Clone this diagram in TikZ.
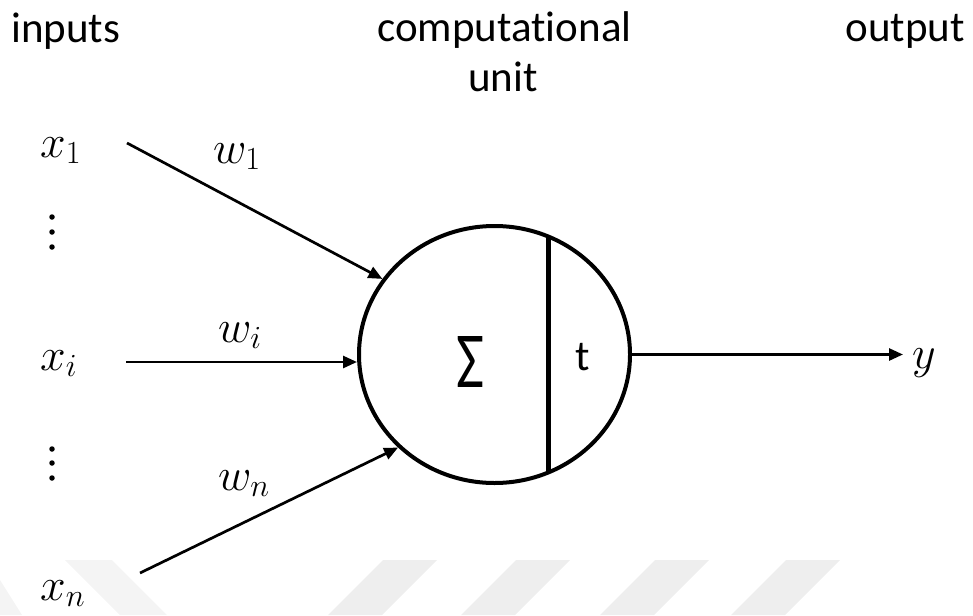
\RequirePackage{fix-cm}
\documentclass[tikz,border=0pt]{standalone}
\usepackage{graphicx}
\usepackage[no-math]{fontspec}
\setmainfont[Ligatures=NoCommon,RawFeature={-calt}]{Carlito}
\usetikzlibrary{arrows.meta,shapes.geometric,calc}
\definecolor{wmA}{HTML}{EEEEEE}
\definecolor{wmB}{HTML}{F4F4F4}
\begin{document}
\begin{tikzpicture}[x=1pt, y=-1pt,
  lbl/.style={font=\fontsize{43}{50}\selectfont, inner sep=0pt},
  mth/.style={font=\fontsize{46}{54}\selectfont, inner sep=0pt},
  arr/.style={line width=2.7pt, -{Triangle[length=14pt,width=12pt]}},
  dotmark/.style={circle, fill=black, inner sep=0pt, minimum size=5.5pt},
  unitbox/.style={draw, ellipse, line width=4pt, inner sep=0pt, minimum width=271pt, minimum height=257pt}]
\useasboundingbox (0,0) rectangle (973,615);
% faint watermark
\fill[wmB] (0,580) -- (0,615) -- (22,615) -- cycle;
\fill[wmB] (65,560) -- (112,560) -- (167,615) -- (120,615) -- cycle;
\fill[wmA] (383,560) -- (437,560) -- (382,615) -- (328,615) -- cycle;
\fill[wmA] (516,560) -- (570,560) -- (515,615) -- (461,615) -- cycle;
\fill[wmA] (655,560) -- (709,560) -- (654,615) -- (600,615) -- cycle;
\fill[wmA] (786,560) -- (840,560) -- (785,615) -- (731,615) -- cycle;
% titles
\node[lbl, anchor=base west] (inp) at (11,43) {inputs};
\node[lbl, anchor=base] (comp) at (504.5,42) {computational};
\node[lbl, anchor=base] (unit) at (503,92) {unit};
\node[lbl, anchor=base east] (outp) at (965,42) {output};
% inputs
\node[mth, anchor=base west] (x1) at (40,157) {$x_1$};
\node[mth, anchor=base west] (xi) at (40,370) {$x_i$};
\node[mth, anchor=base west] (xn) at (40,600) {$x_n$};
\node[dotmark] (da1) at (52,217) {};
\node[dotmark] (da2) at (52,232) {};
\node[dotmark] (da3) at (52,247) {};
\node[dotmark] (db1) at (52,449) {};
\node[dotmark] (db2) at (52,463) {};
\node[dotmark] (db3) at (52,478) {};
% weights
\node[mth, anchor=base west] (w1) at (213,163) {$w_1$};
\node[mth, anchor=base west] (wi) at (218,342) {$w_i$};
\node[mth, anchor=base west] (wn) at (218,490) {$w_n$};
% computational unit
\node[unitbox] (cu) at (494.5,354.5) {};
\coordinate (bt) at ($(cu.center)+(53.5,-118.1)$);
\coordinate (bb) at ($(cu.center)+(53.5,118.1)$);
\draw[line width=5pt] (bt) -- (bb);
\node[inner sep=0pt] (sig) at (470,361.5) {\resizebox{28pt}{51pt}{\fontsize{80}{80}\selectfont Σ}};
\node[lbl, anchor=base] (tt) at (583,370) {t};
% connectors
\coordinate (s1) at (127,143);
\coordinate (si) at (126,362);
\coordinate (sn) at (140,573);
\draw[arr] (s1) -- (cu.146);
\draw[arr] (si) -- (si -| cu.west);
\draw[arr] (sn) -- (cu.224);
% output
\coordinate (ye) at (903,354.5);
\draw[arr] (cu.east) -- (ye);
\node[mth, anchor=base west] (yy) at (912,368) {$y$};
\end{tikzpicture}
\end{document}
